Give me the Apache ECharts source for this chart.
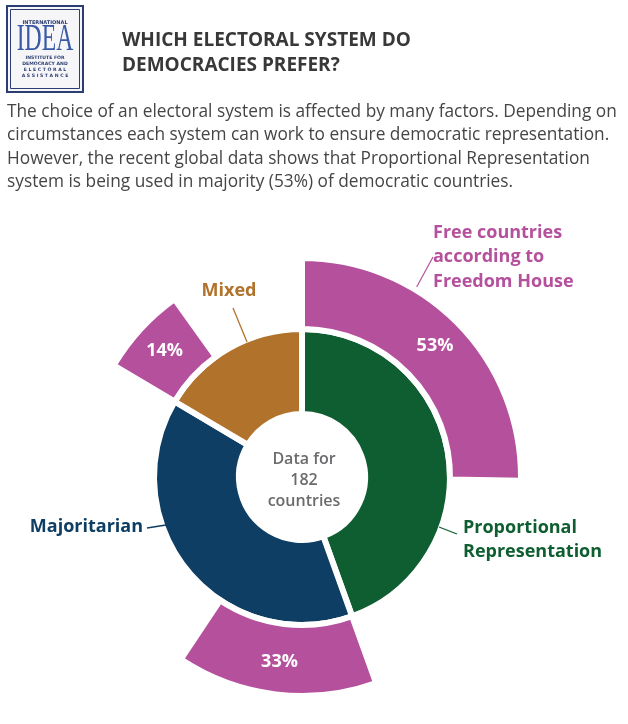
<!DOCTYPE html>
<html>
<head>
<meta charset="utf-8">
<script src="https://cdn.jsdelivr.net/npm/echarts@6/dist/echarts.min.js"></script>
<style>
  html, body { margin: 0; padding: 0; background: #fff; }
  #chart { width: 628px; height: 724px; }
</style>
</head>
<body>
<div id="chart"></div>
<script>
// data
var systems = ['Proportional Representation', 'Majoritarian', 'Mixed'];
var systemLabels = ['Proportional\nRepresentation', 'Majoritarian', 'Mixed'];
var countries = [81, 71, 30];          // of 182 countries
var freeCountries = [46, 27, 12];      // free countries (Freedom House) per system
var freeShare = ['53%', '33%', '14%'];

var systemColors = ['#0f5e31', '#0e3e63', '#b1722b'];
var freeColor = '#b5509d';
var font = '"Open Sans", sans-serif';
var center = [302, 477];

var myChart = echarts.init(document.getElementById('chart'));

// label positions for the inner ring
var labelPlaces = [
  { x: 463, y: 540, align: 'left', verticalAlign: 'middle' },
  { x: 143, y: 527, align: 'right', verticalAlign: 'middle' },
  { x: 229, y: 291, align: 'center', verticalAlign: 'middle' }
];
var labelLines = [
  [439, 527, 457, 534],
  [166, 525, 147, 528],
  [247, 342, 233, 308]
];

var innerData = systems.map(function (s, i) {
  return {
    name: s,
    value: countries[i],
    itemStyle: { color: systemColors[i] },
    label: { color: systemColors[i], formatter: systemLabels[i] }
  };
});

var freeData = [];
systems.forEach(function (s, i) {
  freeData.push({
    name: 'Free: ' + s,
    value: freeCountries[i],
    itemStyle: { color: freeColor },
    label: { show: true, formatter: freeShare[i] }
  });
  freeData.push({
    name: 'Other: ' + s,
    value: countries[i] - freeCountries[i],
    itemStyle: { color: 'rgba(0,0,0,0)', borderWidth: 0 },
    label: { show: false }
  });
});

var logoText = function (txt, y, size) {
  return { type: 'text', x: 45, y: y, style: { text: txt, fill: '#2b3d72',
    font: 'bold ' + size + 'px "DejaVu Sans"', textAlign: 'center', textVerticalAlign: 'middle' } };
};

var graphics = [
  // logo
  { type: 'rect', shape: { x: 7, y: 6, width: 76, height: 86 },
    style: { fill: '#f6f6f8', stroke: '#2b3d72', lineWidth: 2 } },
  { type: 'rect', shape: { x: 10.5, y: 9.5, width: 69, height: 79 },
    style: { fill: 'none', stroke: '#2b3d72', lineWidth: 1 } },
  logoText('INTERNATIONAL', 23, 5),
  { type: 'text', x: 45, y: 40, scaleX: 0.64, style: { text: 'IDEA', fill: '#3b5aa6',
    font: '37px "Liberation Serif"', textAlign: 'center', textVerticalAlign: 'middle' } },
  logoText('INSTITUTE FOR', 58, 4.6),
  logoText('DEMOCRACY AND', 64, 4.6),
  logoText('E L E C T O R A L', 70, 4.6),
  logoText('A S S I S T A N C E', 76, 4.6),
  // centre text
  { type: 'text', x: 304, y: 480, style: { text: 'Data for\n182\ncountries', fill: '#6b6b6e',
    font: '600 16px ' + font, lineHeight: 21, textAlign: 'center', textVerticalAlign: 'middle' } },
  // Freedom House note
  { type: 'text', x: 433, y: 257, style: { text: 'Free countries\naccording to\nFreedom House', fill: freeColor,
    font: 'bold 18px ' + font, lineHeight: 24.5, textAlign: 'left', textVerticalAlign: 'middle' } },
  { type: 'line', shape: { x1: 433, y1: 257, x2: 415, y2: 290 },
    style: { stroke: freeColor, lineWidth: 1.2 } }
];
labelLines.forEach(function (l, i) {
  graphics.push({ type: 'line', shape: { x1: l[0], y1: l[1], x2: l[2], y2: l[3] },
    style: { stroke: systemColors[i], lineWidth: 1.3 }, z: 10 });
});

var option = {
  backgroundColor: '#fff',
  animation: false,
  title: [{
    text: 'WHICH ELECTORAL SYSTEM DO\nDEMOCRACIES PREFER?',
    left: 122,
    top: 28,
    padding: 0,
    textStyle: { fontFamily: font, fontSize: 19, fontWeight: 'bold', color: '#383838', lineHeight: 25 }
  }, {
    text: 'The choice of an electoral system is affected by many factors. Depending on\n' +
      'circumstances each system can work to ensure democratic representation.\n' +
      'However, the recent global data shows that Proportional Representation\n' +
      'system is being used in majority (53%) of democratic countries.',
    left: 7,
    top: 100,
    padding: 0,
    textStyle: { fontFamily: font, fontSize: 17.3, fontWeight: 'normal', color: '#454545', lineHeight: 23.5 }
  }],
  graphic: graphics,
  series: [{
    name: 'Electoral system',
    type: 'pie',
    center: center,
    radius: [63, 148],
    startAngle: 90,
    clockwise: true,
    silent: true,
    avoidLabelOverlap: false,
    itemStyle: { borderColor: '#fff', borderWidth: 6 },
    label: { show: true, position: 'outside', fontFamily: font, fontSize: 18, fontWeight: 'bold', lineHeight: 24.5 },
    labelLine: { show: false },
    labelLayout: function (p) { return labelPlaces[p.dataIndex]; },
    data: innerData
  }, {
    name: 'Free countries',
    type: 'pie',
    center: center,
    radius: [148, 219],
    startAngle: 90,
    clockwise: true,
    silent: true,
    avoidLabelOverlap: false,
    itemStyle: { borderColor: '#fff', borderWidth: 6 },
    label: { position: 'inside', color: '#fff', fontFamily: font, fontSize: 18, fontWeight: 'bold' },
    labelLine: { show: false },
    data: freeData
  }]
};

myChart.setOption(option);
</script>
</body>
</html>
